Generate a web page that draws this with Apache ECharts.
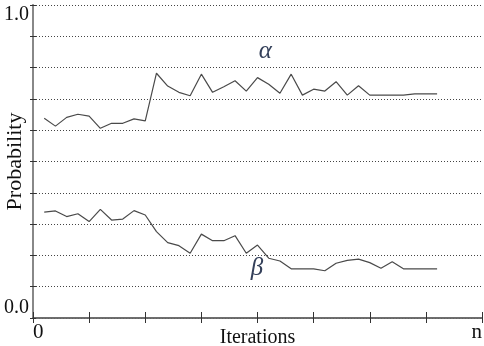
<!DOCTYPE html>
<html>
<head>
<meta charset="utf-8">
<script src="https://cdn.jsdelivr.net/npm/echarts@6/dist/echarts.min.js"></script>
<style>
  html, body { margin: 0; padding: 0; background: #fff; }
  #chart { width: 484px; height: 346px; }
</style>
</head>
<body>
<div id="chart"></div>
<script>
// x positions (fraction of the 0..n range, in axis units 0..8)
const iters = [0.2, 0.4, 0.6, 0.8, 1.0, 1.2, 1.4, 1.6, 1.8, 2.0, 2.2, 2.4,
  2.6, 2.8, 3.0, 3.2, 3.4, 3.6, 3.8, 4.0, 4.2, 4.4, 4.6, 4.8,
  5.0, 5.2, 5.4, 5.6, 5.8, 6.0, 6.2, 6.4, 6.6, 6.8, 7.0, 7.2]

const alpha = [0.638, 0.613, 0.641, 0.651, 0.645, 0.606, 0.622, 0.622, 0.636, 0.630, 0.782, 0.741,
  0.721, 0.710, 0.779, 0.721, 0.739, 0.758, 0.725, 0.768, 0.747, 0.718, 0.779, 0.712,
  0.731, 0.725, 0.755, 0.712, 0.742, 0.712, 0.712, 0.712, 0.712, 0.716, 0.716, 0.716]

const beta = [0.338, 0.342, 0.324, 0.333, 0.308, 0.347, 0.313, 0.316, 0.343, 0.329, 0.276, 0.241,
  0.231, 0.207, 0.268, 0.247, 0.247, 0.263, 0.207, 0.233, 0.191, 0.182, 0.157, 0.157,
  0.157, 0.151, 0.175, 0.184, 0.188, 0.177, 0.159, 0.180, 0.157, 0.157, 0.157, 0.157]

// where the greek series names sit, in data coordinates
const alphaLabelAt = [4.14, 0.853]
const betaLabelAt = [3.99, 0.157]

const serif = 'Liberation Serif'
const axisGray = '#666'

const chart = echarts.init(document.getElementById('chart'), null, { renderer: 'canvas' })

const xBase = {
  type: 'value', min: 0, max: 8, interval: 1,
  axisLine: { show: true, lineStyle: { color: axisGray, width: 1.5 } },
  splitLine: { show: false }
}
const yBase = {
  type: 'value', min: 0, max: 1, interval: 0.1,
  axisLine: { show: true, lineStyle: { color: axisGray, width: 1.5 } }
}

function greek(txt, at) {
  return {
    symbol: 'circle', symbolSize: 0, silent: true,
    label: { show: true, position: 'inside', formatter: txt, color: '#34405a',
      fontFamily: serif, fontStyle: 'italic', fontSize: 25 },
    data: [{ coord: at }]
  }
}

chart.setOption({
  animation: false,
  textStyle: { fontFamily: serif },
  grid: { left: 33, right: 2, top: 5, bottom: 28, containLabel: false, outerBoundsMode: 'none' },
  xAxis: [
    Object.assign({}, xBase, {
      position: 'bottom',
      name: 'Iterations', nameLocation: 'middle', nameGap: 10, nameMoveOverlap: false,
      nameTextStyle: { fontFamily: serif, fontSize: 20, color: '#111' },
      axisTick: { show: true, inside: true, length: 6, lineStyle: { color: '#333' } },
      axisLabel: {
        show: true, margin: 4, fontFamily: serif, fontSize: 21, color: '#111',
        showMinLabel: true, showMaxLabel: true,
        alignMinLabel: 'left', alignMaxLabel: 'right',
        formatter: v => v === 0 ? '0' : (v === 8 ? 'n' : '')
      }
    }),
    Object.assign({}, xBase, {
      position: 'top',
      axisTick: { show: true, inside: true, length: 5, lineStyle: { color: '#333' } },
      axisLabel: { show: false }
    })
  ],
  yAxis: [
    Object.assign({}, yBase, {
      position: 'left',
      name: 'Probability', nameLocation: 'middle', nameGap: 7, nameMoveOverlap: false,
      nameTextStyle: { fontFamily: serif, fontSize: 22, color: '#111' },
      axisTick: { show: true, inside: true, length: 3, lineStyle: { color: '#333' } },
      axisLabel: {
        show: true, margin: 4, fontFamily: serif, fontSize: 20, color: '#111',
        showMinLabel: true, showMaxLabel: true,
        verticalAlignMinLabel: 'bottom', verticalAlignMaxLabel: 'top',
        formatter: v => Math.abs(v - 1) < 1e-9 ? '1.0' : (Math.abs(v) < 1e-9 ? '0.0' : '')
      },
      splitLine: { show: true, lineStyle: { color: '#444', width: 1, type: [1, 2] } }
    }),
    Object.assign({}, yBase, {
      position: 'right',
      axisLine: { show: true, lineStyle: { color: '#888', width: 2 } },
      axisTick: { show: true, inside: true, length: 3, lineStyle: { color: '#333' } },
      axisLabel: { show: false },
      splitLine: { show: false }
    })
  ],
  series: [
    {
      name: 'alpha', type: 'line', symbol: 'none',
      data: iters.map((x, i) => [x, alpha[i]]),
      lineStyle: { color: '#4a4a4a', width: 1.2 },
      markPoint: greek('α', alphaLabelAt)
    },
    {
      name: 'beta', type: 'line', symbol: 'none',
      data: iters.map((x, i) => [x, beta[i]]),
      lineStyle: { color: '#4a4a4a', width: 1.2 },
      markPoint: greek('β', betaLabelAt)
    }
  ]
})
</script>
</body>
</html>
